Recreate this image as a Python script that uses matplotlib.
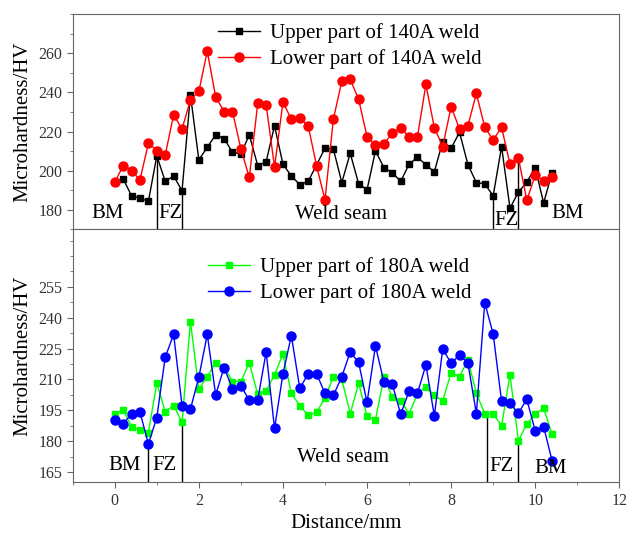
import numpy as np
import matplotlib
matplotlib.use("Agg")
import matplotlib.pyplot as plt
from matplotlib.ticker import MultipleLocator

plt.rcParams["font.family"] = ["Liberation Serif", "DejaVu Serif"]

# distance des points de mesure (mm)
distance = [round(0.2 * i, 1) for i in range(53)]

# soudure 140A
haut_140 = [194, 195.8, 187.1, 186.0, 184.3, 207.6, 194.5, 197.3, 189.7, 238.7,
            205.5, 212.0, 218.3, 216.4, 209.4, 208.6, 218.3, 202.6, 204.5, 223.0,
            203.3, 197.3, 192.8, 194.5, 203.0, 211.5, 211.0, 193.9, 208.9, 193.3,
            190.2, 210.1, 201.6, 199.0, 194.5, 203.3, 206.9, 203.0, 199.4, 214.8,
            211.5, 219.6, 203.0, 193.9, 193.3, 187.1, 212.3, 180.8, 189.0, 194.1,
            201.6, 183.4, 199.0]
bas_140 = [194, 202.6, 199.9, 195.3, 214.0, 210.3, 207.9, 228.6, 221.3, 236.1,
           240.5, 261.1, 237.8, 230.2, 230.2, 211.1, 196.5, 234.4, 233.8, 201.8,
           235.1, 226.3, 226.9, 223.0, 202.4, 185.1, 226.4, 245.7, 246.7, 236.5,
           217.4, 213.0, 213.7, 219.1, 221.8, 217.4, 217.4, 244.1, 222.0, 212.3,
           232.7, 221.3, 223.0, 239.5, 222.2, 215.7, 222.2, 203.3, 206.5, 184.8,
           197.7, 194.8, 196.7]

# soudure 180A
haut_180 = [193.3, 195.2, 187.1, 185.2, 184.2, 208.2, 194.4, 197.3, 189.2, 238.1,
            205.3, 211.4, 218.2, 216.2, 209.0, 209.0, 218.2, 202.7, 204.6, 212.2,
            222.4, 203.2, 197.3, 192.5, 194.1, 200.9, 211.4, 210.2, 193.3, 208.2,
            192.3, 190.4, 211.0, 201.3, 199.7, 193.3, 203.0, 206.5, 202.3, 199.6,
            213.3, 211.4, 219.5, 203.3, 193.3, 193.3, 187.5, 212.2, 180.2, 188.4,
            193.3, 195.9, 183.6]
bas_180 = [190.4, 188.4, 193.3, 194.1, 178.6, 191.5, 220.8, 231.9, 197.3, 195.6,
           211.1, 231.9, 202.5, 215.8, 205.4, 206.9, 199.8, 200.0, 223.3, 186.2,
           212.7, 231.3, 205.7, 212.7, 212.7, 203.3, 202.2, 211.4, 223.3, 218.3,
           198.8, 226.3, 208.9, 207.8, 193.1, 204.3, 203.3, 217.1, 192.3, 224.8,
           217.9, 221.9, 217.9, 193.4, 247.3, 232.1, 199.4, 198.4, 193.6, 200.4,
           185.0, 187.1, 170.5]

# limites des zones (position, hauteur du trait)
limites_140 = [(1.0, 207.6), (1.6, 189.7), (9.0, 187.1), (9.6, 206.5)]
limites_180 = [(0.8, 178.6), (1.6, 189.2), (8.85, 193.3), (9.6, 180.2)]

# étiquettes des zones (texte, x, y)
zones_140 = [("BM", -0.18, 178.3), ("FZ", 1.32, 178.3), ("Weld seam", 5.37, 177.5),
             ("FZ", 9.33, 174.3), ("BM", 10.77, 178.3)]
zones_180 = [("BM", 0.24, 168.0), ("FZ", 1.19, 168.0), ("Weld seam", 5.44, 172.0),
             ("FZ", 9.2, 167.6), ("BM", 10.36, 166.6)]

fig = plt.figure(figsize=(6.29, 5.41), dpi=100)
ax1 = fig.add_axes([0.1156, 0.5762, 0.869, 0.3974])
ax2 = fig.add_axes([0.1156, 0.1085, 0.869, 0.4677])

ax1.plot(distance, haut_140, "-s", color="black", lw=1, ms=5,
         label="Upper part of 140A weld")
ax1.plot(distance, bas_140, "-o", color="red", lw=1, ms=6.5,
         label="Lower part of 140A weld")
ax2.plot(distance, haut_180, "-s", color="#00ff00", lw=1, ms=5,
         label="Upper part of 180A weld")
ax2.plot(distance, bas_180, "-o", color="blue", lw=1, ms=6.5,
         label="Lower part of 180A weld")

for ax, limites, zones, bas in [(ax1, limites_140, zones_140, 170),
                                 (ax2, limites_180, zones_180, 160)]:
    for xl, yl in limites:
        ax.vlines(xl, bas, yl, color="black", lw=1, zorder=1)
    for txt, xt, yt in zones:
        ax.text(xt, yt, txt, ha="center", va="center", fontsize=15)

ax1.set_xlim(-1, 12)
ax2.set_xlim(-1, 12)
ax1.set_ylim(170, 280)
ax2.set_ylim(160, 283)

ax1.set_yticks([180, 200, 220, 240, 260])
ax1.yaxis.set_minor_locator(MultipleLocator(10))
ax2.set_yticks([165, 180, 195, 210, 225, 240, 255])
ax2.yaxis.set_minor_locator(MultipleLocator(7.5))
ax2.xaxis.set_major_locator(MultipleLocator(2))
ax2.xaxis.set_minor_locator(MultipleLocator(1))
ax1.set_xticks([])

for ax in (ax1, ax2):
    for s in ax.spines.values():
        s.set_color("#666666")
    ax.tick_params(which="both", direction="out", color="#666666",
                   labelcolor="#333333", labelsize=11.5)
    ax.tick_params(which="major", length=4)
    ax.tick_params(which="minor", length=2.5)
    ax.set_ylabel("Microhardness/HV", fontsize=15, labelpad=4)

ax2.set_xlabel("Distance/mm", fontsize=15, labelpad=4)

ax1.legend(loc="upper left", bbox_to_anchor=(0.266, 0.958), frameon=False,
           fontsize=15, handlelength=2, handletextpad=0.5, labelspacing=0.3,
           borderpad=0, borderaxespad=0)
ax2.legend(loc="upper left", bbox_to_anchor=(0.248, 0.89), frameon=False,
           fontsize=15, handlelength=2, handletextpad=0.5, labelspacing=0.3,
           borderpad=0, borderaxespad=0)

plt.savefig("out.png", dpi=100)
plt.close()
